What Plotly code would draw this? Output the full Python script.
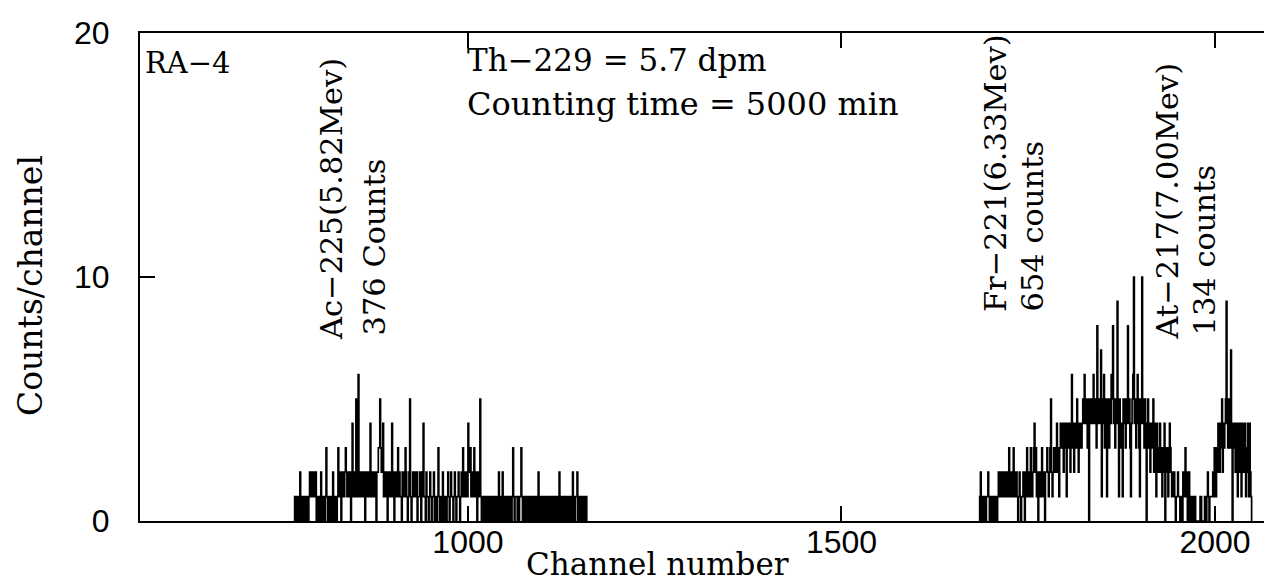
import plotly.graph_objects as go

# ---- data ----
ac_start = 768  # first channel of the Ac-225 group
ac_counts = [
    1,0,1,1,0,1,0,2,1,0, 0,1,0,1,0,0,1,1,0,1,
    2,2,1,2,2,1,2,1,2,0, 1,1,0,1,0,2,0,1,0,1,
    0,1,3,1,0,1,1,0,1,1, 0,2,1,0,1,1,0,1,3,2,
    1,2,0,2,1,2,1,2,3,2, 1,2,1,2,1,0,2,4,1,2,
    2,1,5,2,1,6,2,1,2,1, 2,2,1,2,0,2,2,1,2,2,
    1,4,2,1,2,1,1,2,2,0, 2,2,3,3,5,3,2,2,4,1,
    2,2,1,2,0,1,2,1,2,1, 4,1,2,0,1,2,1,1,3,1,
    2,1,1,0,2,1,2,1,3,2, 1,0,1,2,5,1,0,1,2,1,
    1,2,1,2,0,1,1,2,1,0, 2,1,4,1,1,0,2,1,1,0,
    1,2,1,0,1,1,2,0,1,1, 0,1,3,1,0,1,1,0,2,1,
    0,1,1,0,1,2,1,0,1,2, 1,1,0,1,2,1,0,1,1,2,
    1,0,1,2,1,3,1,2,1,1, 2,1,4,2,2,3,1,2,2,1,
    3,1,1,2,0,2,1,1,5,1, 0,1,0,1,1,0,1,0,1,1,
    0,1,0,0,1,1,0,1,0,1, 1,0,1,2,0,1,1,0,2,1,
    0,1,0,1,1,0,1,0,1,1, 0,1,3,1,0,1,1,1,0,1,
    0,1,1,3,1,0,1,0,1,1, 0,0,1,0,1,1,0,1,0,0,
    1,0,1,0,1,0,2,1,0,0, 1,0,0,1,0,1,1,0,1,0,
    0,1,0,0,1,1,0,1,0,0, 1,0,1,0,2,1,0,1,1,0,
    0,1,0,1,0,0,1,1,0,1, 0,1,2,0,1,0,1,1,2,0,
    1,0,1,1,0,1,0,1,1,0,1,
]

fr_start = 1685  # first channel of the Fr-221 / At-217 group
fr_at_counts = [
    1,2,0,1,1,0,1,0,0,1,  1,2,1,0,1,0,0,1,0,1,
    0,1,1,0,1,2,1,1,2,1,  1,2,1,2,1,1,2,1,1,3,
    1,2,1,1,2,3,1,2,1,2,  1,0,1,2,1,0,1,1,2,1,
    0,2,1,3,1,2,2,1,3,2,  1,2,3,4,2,3,1,2,0,1,
    2,1,2,3,1,2,1,0,2,2,  3,2,1,2,3,5,2,1,2,3,
    2,3,2,4,3,2,1,3,4,3,  4,3,2,4,3,4,1,4,3,4,
    3,2,4,6,3,4,2,3,4,3,  5,3,2,4,3,4,3,4,5,4,
    6,5,4,5,3,5,0,4,5,4,  5,4,6,5,4,5,3,8,5,4,
    5,4,7,1,4,5,6,3,5,4,  1,5,4,3,5,4,6,5,8,4,
    5,3,4,5,9,4,1,5,3,4,  4,1,5,4,5,3,4,5,8,4,
    5,3,1,4,5,6,10,4,5,3, 4,6,5,3,1,5,4,10,4,5,
    3,5,4,0,4,5,3,4,2,3,  4,3,5,2,4,3,1,4,3,2,
    3,4,2,3,1,3,2,4,0,3,  2,3,1,2,4,3,2,1,2,1,
    2,1,0,1,1,2,1,1,0,1,  1,0,2,1,1,3,1,2,0,1,
    2,0,1,1,0,1,0,0,1,0,  0,0,0,0,0,1,1,0,0,0,
    0,1,0,0,1,2,1,0,1,1,  1,1,2,1,3,2,1,3,2,4,
    3,2,4,3,5,2,4,3,4,5,  9,4,3,5,4,3,7,4,0,3,
    4,3,2,4,3,1,4,3,2,4,  1,3,4,2,3,4,1,3,2,4,
    1,4,2,1,
]

x_ticks = [1000, 1500, 2000]
x_tick_labels = ["1000", "1500", "2000"]
y_ticks = [0, 10, 20]
y_tick_labels = ["0", "10", "20"]

x_range = [561, 2087]
y_range = [0, 20]

serif = "DejaVu Serif"
sans = "Liberation Sans"

ac_x = [ac_start + i for i in range(len(ac_counts))]
fr_x = [fr_start + i for i in range(len(fr_at_counts))]

fig = go.Figure()
for xs, ys in ((ac_x, ac_counts), (fr_x, fr_at_counts)):
    fig.add_trace(go.Scatter(
        x=[xs[0]] + xs + [xs[-1] + 1],
        y=[0] + ys + [0],
        mode="lines",
        line=dict(shape="hv", color="black", width=1.7),
        hoverinfo="skip",
        showlegend=False,
    ))

fig.update_layout(
    width=1272, height=581,
    margin=dict(l=132, r=0, t=25, b=68),
    paper_bgcolor="white", plot_bgcolor="white",
    showlegend=False,
)
fig.update_xaxes(
    range=x_range, tickvals=x_ticks, ticktext=x_tick_labels,
    showgrid=False, zeroline=False,
    showline=True, linecolor="black", linewidth=2, mirror="ticks",
    ticks="inside", ticklen=15, tickwidth=2, tickcolor="black",
    tickfont=dict(family=sans, size=32, color="black"),
    ticklabelstandoff=-8,
)
fig.update_yaxes(
    range=y_range, tickvals=y_ticks, ticktext=y_tick_labels,
    showgrid=False, zeroline=False,
    showline=True, linecolor="black", linewidth=2, mirror=False,
    ticks="inside", ticklen=15, tickwidth=2, tickcolor="black",
    tickfont=dict(family=sans, size=32, color="black"),
    ticklabelstandoff=22,
)

def px_x(px):
    return (px - 132) / 1140.0

def px_y(py):
    return (513 - py) / 488.0

ann = []
ann.append(dict(text="RA−4", x=px_x(135), y=px_y(36), xanchor="left", yanchor="top", size=29))
ann.append(dict(text="Th−229 = 5.7 dpm", x=px_x(457), y=px_y(32), xanchor="left", yanchor="top", size=31))
ann.append(dict(text="Counting time = 5000 min", x=px_x(457), y=px_y(75), xanchor="left", yanchor="top", size=32))
rot = [
    ("Ac−225(5.82Mev)", 323, 334),
    ("376 Counts", 366, 330),
    ("Fr−221(6.33Mev)", 987, 306),
    ("654 counts", 1024, 306),
    ("At−217(7.00Mev)", 1159, 334),
    ("134 counts", 1196, 330),
]
for t, cx, by in rot:
    ann.append(dict(text=t, x=px_x(cx), y=px_y(by), xanchor="center", yanchor="bottom", textangle=-90, size=30.5))
ann.append(dict(text="Counts/channel", x=px_x(22), y=px_y(278), xanchor="center", yanchor="middle", textangle=-90, size=33))
ann.append(dict(text="Channel number", x=px_x(649), y=px_y(576), xanchor="center", yanchor="bottom", size=31))

for a in ann:
    s = a.pop("size")
    a.update(xref="paper", yref="paper", showarrow=False,
             font=dict(family=serif, size=s, color="black"))
    fig.add_annotation(**a)

fig.write_html("out.html")
